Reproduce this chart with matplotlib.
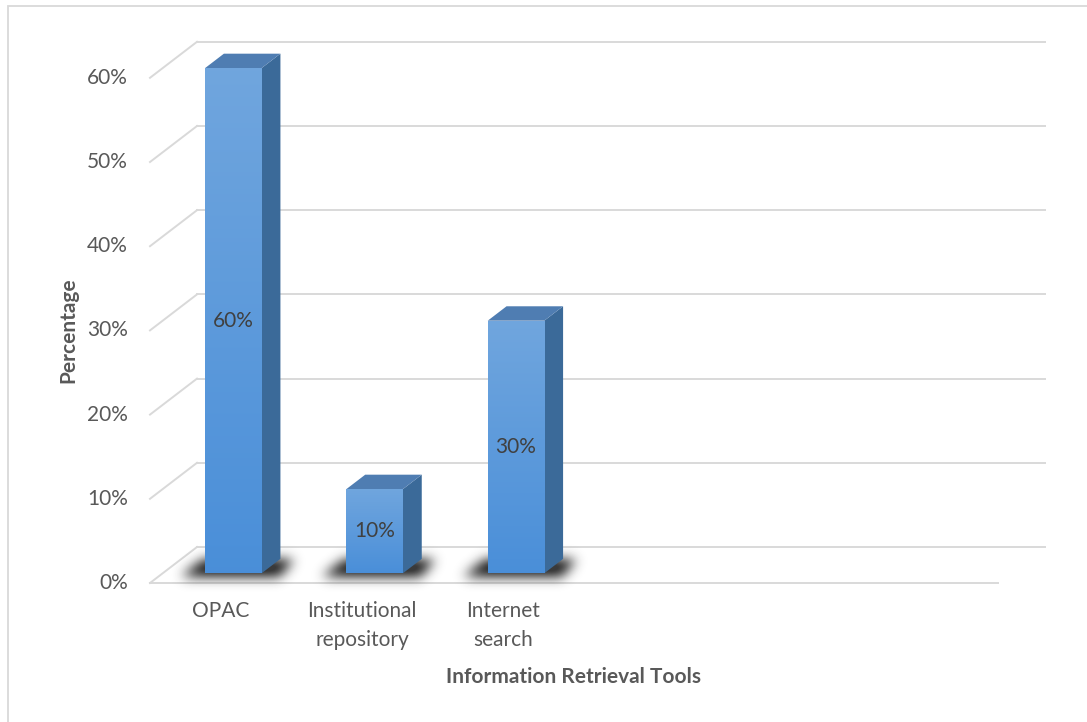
import numpy as np
import matplotlib
matplotlib.use("Agg")
import matplotlib.pyplot as plt
from matplotlib.patches import Polygon, Rectangle
from matplotlib.path import Path

plt.rcParams['font.family'] = ['Lato', 'DejaVu Sans']

# === Data ===
categories = ['OPAC', 'Institutional\nrepository', 'Internet\nsearch']
values = [60, 10, 30]
n_slots = 6                      # category slots on the floor (only 3 used)
yticks = [0, 10, 20, 30, 40, 50, 60]

# === Layout (pixels) ===
W, H = 1087, 722
X0_PX, SLOT_PX = 150, 141.33     # left front corner of floor, width of one slot
Y0_PX, PCT_PX = 583, 8.42        # floor front line (from top), pixels per 1%

# depth of the 3D box in data units
DX, DY = 47 / SLOT_PX, 36 / PCT_PX
F0, F1 = 0.27, 0.67              # bar front / back depth fractions
BAR_W = 0.40

grid_col = '#d9d9d9'
text_col = '#595959'
FS = 15

fig = plt.figure(figsize=(W / 100, H / 100), dpi=100)
ax = fig.add_axes([0, 0, 1, 1])
XLIM = (-X0_PX / SLOT_PX, (W - X0_PX) / SLOT_PX)
YLIM = ((Y0_PX - H) / PCT_PX, Y0_PX / PCT_PX)
ax.set_xlim(XLIM)
ax.set_ylim(YLIM)
ax.axis('off')

# pixel -> data helpers
px = lambda p: p / SLOT_PX + XLIM[0]
py = lambda p: YLIM[1] - p / PCT_PX
sx = lambda p: p / SLOT_PX   # pixel length -> x units
sy = lambda p: p / PCT_PX    # pixel length -> y units

# chart border (left/top visible)
ax.add_patch(Rectangle((px(8), py(H + 20)), (W + 20) / SLOT_PX, (H + 14) / PCT_PX,
                       fill=False, ec=grid_col, lw=1.3, zorder=0))

# === Walls / gridlines ===
for t in yticks:
    ax.plot([0, DX], [t, t + DY], color=grid_col, lw=1.4, zorder=1)
    ax.plot([DX, n_slots + DX], [t + DY, t + DY], color=grid_col, lw=1.4, zorder=1)
ax.plot([0, n_slots], [0, 0], color=grid_col, lw=1.4, zorder=1)

# tick labels
for t in yticks:
    ax.text(px(128), t, f'{t}%', ha='right', va='center', fontsize=FS, color=text_col)

# === Shadows (blurred footprint on the floor) ===
gx0, gx1, gy0, gy1 = -0.5, 3.8, -3.5, 6.5
nx = int((gx1 - gx0) * SLOT_PX)
ny = int((gy1 - gy0) * PCT_PX)
xs = np.linspace(gx0, gx1, nx)
ys = np.linspace(gy0, gy1, ny)
XX, YY = np.meshgrid(xs, ys)
pts = np.column_stack([XX.ravel(), YY.ravel()])
mask = np.zeros(XX.shape)
for i, v in enumerate(values):
    xl = i + 0.5 - BAR_W / 2
    xr = i + 0.5 + BAR_W / 2
    fy0 = F0 * DY - sy(4)
    fy1 = F1 * DY - sy(1)
    poly = Path([(xl + F0 * DX - sx(24), fy0), (xr + F0 * DX + sx(18), fy0),
                 (xr + F1 * DX + sx(14), fy1), (xl + F1 * DX - sx(20), fy1)])
    mask = np.maximum(mask, poly.contains_points(pts).reshape(XX.shape))

def blur(a, sigma):
    r = int(3 * sigma)
    k = np.exp(-0.5 * (np.arange(-r, r + 1) / sigma) ** 2)
    k /= k.sum()
    a = np.apply_along_axis(lambda m: np.convolve(m, k, mode='same'), 0, a)
    a = np.apply_along_axis(lambda m: np.convolve(m, k, mode='same'), 1, a)
    return a

shadow = blur(mask, 6)
rgba = np.zeros(shadow.shape + (4,))
rgba[..., :3] = 0.12
rgba[..., 3] = np.clip(shadow * 1.1, 0, 0.88)
ax.imshow(rgba, extent=(gx0, gx1, gy0, gy1), origin='lower', aspect='auto',
          interpolation='bilinear', zorder=2)

# === Bars ===
grad = np.linspace(0, 1, 256).reshape(-1, 1)
top_c = np.array([0.44, 0.65, 0.87])
bot_c = np.array([0.29, 0.56, 0.85])
front_img = (bot_c * (1 - grad[..., None]) + top_c * grad[..., None]).reshape(256, 1, 3)

for i, v in enumerate(values):
    xl = i + 0.5 - BAR_W / 2
    xr = i + 0.5 + BAR_W / 2
    fx0, fy0 = F0 * DX, F0 * DY
    fx1, fy1 = F1 * DX, F1 * DY
    side = Polygon([(xr + fx0, fy0), (xr + fx1, fy1), (xr + fx1, v + fy1), (xr + fx0, v + fy0)],
                   closed=True, fc='#3b6a99', ec='none', zorder=3)
    top = Polygon([(xl + fx0, v + fy0), (xr + fx0, v + fy0), (xr + fx1, v + fy1), (xl + fx1, v + fy1)],
                  closed=True, fc='#4f7db2', ec='none', zorder=3)
    ax.add_patch(side)
    ax.add_patch(top)
    front = Rectangle((xl + fx0, fy0), BAR_W, v, fc='none', ec='none', zorder=4)
    ax.add_patch(front)
    im = ax.imshow(front_img, extent=(xl + fx0, xr + fx0, fy0, v + fy0), origin='lower',
                   aspect='auto', zorder=4)
    im.set_clip_path(front)
    ax.text(i + 0.5 + fx0, v / 2 + fy0, f'{v}%', ha='center', va='center',
            fontsize=FS, color='#404040', zorder=5)

# === Category labels and axis titles ===
for i, c in enumerate(categories):
    ax.text(i + 0.5, py(601), c, ha='center', va='top', fontsize=FS,
            color=text_col, linespacing=1.55)

ax.text(n_slots / 2, py(677), 'Information Retrieval Tools', ha='center', va='center',
        fontsize=FS, fontweight='bold', color=text_col)
ax.text(px(68), 30, 'Percentage', ha='center', va='center', rotation=90,
        fontsize=FS, fontweight='bold', color=text_col)

ax.set_xlim(XLIM)
ax.set_ylim(YLIM)
fig.savefig('out.png', dpi=100)
